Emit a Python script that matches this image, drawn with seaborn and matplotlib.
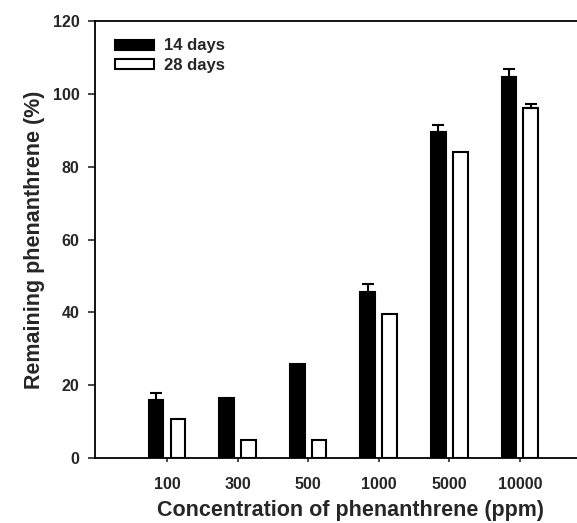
import matplotlib
matplotlib.use("Agg")
import matplotlib.pyplot as plt
import seaborn as sns
import pandas as pd
import numpy as np

concentrations = ["100", "300", "500", "1000", "5000", "10000"]
days14 = [15.9, 16.5, 25.8, 45.5, 89.5, 104.5]
days28 = [10.7, 5.0, 5.0, 39.5, 84.0, 96.2]
err14 = [1.9, 0.0, 0.0, 2.4, 1.9, 2.2]
err28 = [0.0, 0.0, 0.0, 0.0, 0.0, 1.1]
series_labels = ["14 days", "28 days"]
y_ticks = [0, 20, 40, 60, 80, 100, 120]

df = pd.DataFrame({
    "conc": concentrations * 2,
    "value": days14 + days28,
    "period": [series_labels[0]] * len(concentrations) + [series_labels[1]] * len(concentrations),
})

sns.set_style("ticks")
plt.rcParams["font.family"] = ["Liberation Sans", "DejaVu Sans"]
plt.rcParams["font.weight"] = "bold"

fig = plt.figure(figsize=(5.77, 5.23), dpi=100)
ax = fig.add_axes([95 / 577, (523 - 458) / 523, (577 - 95) / 577, (458 - 21) / 523])

sns.barplot(data=df, x="conc", y="value", hue="period", order=concentrations,
            hue_order=series_labels,
            palette={series_labels[0]: "black", series_labels[1]: "white"},
            edgecolor="black", linewidth=1.5, width=0.62, gap=0.33,
            errorbar=None, ax=ax)

for cont, errs in zip(ax.containers, [err14, err28]):
    xs, ys, es = [], [], []
    for bar, e in zip(cont, errs):
        if e > 0:
            xs.append(bar.get_x() + bar.get_width() / 2)
            ys.append(bar.get_height())
            es.append(e)
    if xs:
        ax.errorbar(xs, ys, yerr=[np.zeros(len(es)), es], fmt="none", ecolor="black",
                    elinewidth=1.5, capsize=4, capthick=1.5)

ax.set_ylim(0, 120)
ax.set_yticks(y_ticks)
ax.set_xlim(-1.02, 5.81)

for s in ["left", "bottom", "top"]:
    ax.spines[s].set_linewidth(1.3)
    ax.spines[s].set_color("black")
ax.spines["right"].set_visible(False)

ax.tick_params(axis="y", direction="out", length=5, width=1.2, pad=6, labelsize=11.5)
ax.tick_params(axis="x", direction="out", length=3, width=1.2, pad=11, labelsize=11.5)
for lab in ax.get_xticklabels() + ax.get_yticklabels():
    lab.set_fontweight("bold")

ax.set_xlabel("Concentration of phenanthrene (ppm)", fontsize=15.5, fontweight="bold")
ax.xaxis.set_label_coords(0.531, -0.095)
ax.set_ylabel("Remaining phenanthrene (%)", fontsize=15.5, fontweight="bold", labelpad=6)

handles, labels = ax.get_legend_handles_labels()
ax.legend(handles, labels, loc="upper left", bbox_to_anchor=(0.042, 0.96), frameon=False,
          borderpad=0, borderaxespad=0, handlelength=2.3, handleheight=0.55,
          handletextpad=0.6, labelspacing=0.25,
          prop={"weight": "bold", "size": 12})

fig.savefig("out.png", dpi=100)
